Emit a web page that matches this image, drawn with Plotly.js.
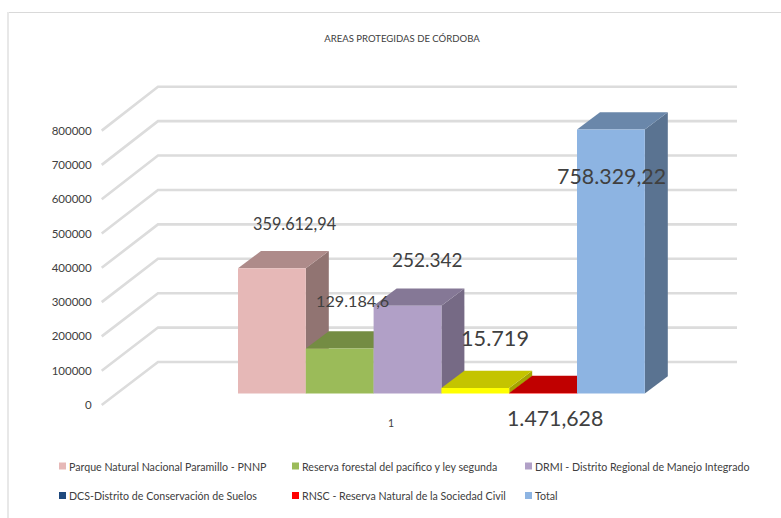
<!DOCTYPE html>
<html>
<head>
<meta charset="utf-8">
<script src="https://cdn.plot.ly/plotly-3.0.1.min.js"></script>
<style>html,body{margin:0;padding:0;background:#fff}#c{width:781px;height:518px}</style>
</head>
<body>
<div id="c"></div>
<script>
// ---- Data ----
const seriesNames = [
  "Parque Natural Nacional Paramillo - PNNP",
  "Reserva forestal del pacífico y ley segunda",
  "DRMI - Distrito Regional de Manejo Integrado",
  "DCS-Distrito de Conservación de Suelos",
  "RNSC - Reserva Natural de la Sociedad Civil",
  "Total"
];
const values = [359612.94, 129184.6, 252342, 15719, 1471.628, 758329.22];
const dataLabels = ["359.612,94", "129.184,6", "252.342", "15.719", "1.471,628", "758.329,22"];
const yTicks = [0, 100000, 200000, 300000, 400000, 500000, 600000, 700000, 800000];
const xTickText = ["1"];

// ---- Styles ----
const frontColors = ["#E6B8B7", "#9BBB59", "#B1A0C7", "#FFFF00", "#FF0000", "#8DB4E2"];
const topColors   = ["#AE8B8A", "#748C43", "#857896", "#C4C400", "#C00000", "#6A87AA"];
const sideColors  = ["#917472", "#6A803D", "#766A85", "#A5A500", "#A00000", "#5A7391"];
const legendColors = ["#E6B8B7", "#9BBB59", "#B1A0C7", "#1F497D", "#FF0000", "#8DB4E2"];
const labelFont = [16.3, 16.2, 19, 21.7, 21.3, 21.4];
const labelShift = [[23, 45], [13, 48], [19.5, 46], [19.7, 50], [12, -25], [1, -47]];
const FONT = "Lato, 'Open Sans', sans-serif";

// ---- Projection of the pseudo-3D box, in axis units ----
const W = 781, H = 518;
const plot = {l: 100, r: 760, t: 70, b: 411};
const slot = 67.8;              // px per bar
const pxPerVal = 34.3 / 100000; // px per value unit on the front plane
const zeroPx = 405;
const xLeft = 238;
const xOf = px => (px - (xLeft + slot / 2)) / slot;
const xRange = [xOf(plot.l), xOf(plot.r)];
const yRange = [(zeroPx - plot.b) / pxPerVal, (zeroPx - plot.t) / pxPerVal];
const wallDX = 56.3 / slot, wallDY = 43 / pxPerVal, wallScale = 34.41 / 34.3;
const gridFrontX = xOf(101.7), gridEndX = xOf(737);
const barBase = 11.5 / pxPerVal, barScale = 1.015;
const depthX = 23 / slot, depthY = 17.2 / pxPerVal;
const axisTickX = xOf(391);

const traces = [];
// gridlines: side wall + back wall
yTicks.forEach(v => {
  const back = wallDY + v * wallScale;
  traces.push({
    x: [gridFrontX, gridFrontX + wallDX, gridEndX],
    y: [v, back, back],
    mode: "lines", type: "scatter", hoverinfo: "skip", showlegend: false,
    line: {color: "#DCDCDC", width: 2.6}
  });
});
// side and top faces, left to right so nearer neighbours overlap
values.forEach((v, i) => {
  const L = i - 0.5, R = i + 0.5, top = barBase + v * barScale;
  traces.push({
    x: [R, R, R + depthX, R + depthX, R],
    y: [barBase, top, top + depthY, barBase + depthY, barBase],
    mode: "lines", type: "scatter", fill: "toself", fillcolor: sideColors[i],
    line: {width: 0}, hoverinfo: "skip", showlegend: false
  });
  traces.push({
    x: [L, L + depthX, R + depthX, R, L],
    y: [top, top + depthY, top + depthY, top, top],
    mode: "lines", type: "scatter", fill: "toself", fillcolor: topColors[i],
    line: {width: 0}, hoverinfo: "skip", showlegend: false
  });
});
// front faces: real bars on an overlaid pair of axes
values.forEach((v, i) => {
  traces.push({
    type: "bar", x: [i], y: [v * barScale], base: [barBase], width: [1],
    name: seriesNames[i], xaxis: "x2", yaxis: "y2",
    marker: {color: frontColors[i], line: {width: 0}},
    hoverinfo: "skip", showlegend: false
  });
});

const px2paperX = p => (p - plot.l) / (plot.r - plot.l);
const px2paperY = p => (plot.b - p) / (plot.b - plot.t);

const annotations = dataLabels.map((t, i) => ({
  text: t, x: i, y: barBase + values[i] * barScale, xref: "x", yref: "y",
  xshift: labelShift[i][0], yshift: labelShift[i][1],
  showarrow: false, xanchor: "center", yanchor: "middle",
  font: {family: FONT, size: labelFont[i], color: "#404040"}
}));

const swatchX = [59, 292, 525];
const rowY = [466, 495.5];
const shapes = [
  {type: "line", xref: "paper", yref: "paper", layer: "below",
   x0: px2paperX(7), x1: px2paperX(781), y0: px2paperY(12.5), y1: px2paperY(12.5),
   line: {color: "#D9D9D9", width: 1}},
  {type: "line", xref: "paper", yref: "paper", layer: "below",
   x0: px2paperX(8), x1: px2paperX(8), y0: px2paperY(12), y1: px2paperY(518),
   line: {color: "#E8E8E8", width: 2}}
];
seriesNames.forEach((n, i) => {
  const c = i % 3, r = Math.floor(i / 3);
  shapes.push({
    type: "rect", xref: "paper", yref: "paper",
    x0: px2paperX(swatchX[c]), x1: px2paperX(swatchX[c] + 7),
    y0: px2paperY(rowY[r] - 3.5), y1: px2paperY(rowY[r] + 3.5),
    fillcolor: legendColors[i], line: {width: 0}
  });
  annotations.push({
    text: n, xref: "paper", yref: "paper",
    x: px2paperX(swatchX[c] + 9.5), y: px2paperY(rowY[r]),
    xanchor: "left", yanchor: "middle", showarrow: false,
    borderpad: 0, xshift: -1,
    font: {family: FONT, size: 10.65, color: "#404040"}
  });
});

const layout = {
  width: W, height: H,
  margin: {l: plot.l, r: W - plot.r, t: plot.t, b: H - plot.b, pad: 0},
  paper_bgcolor: "#fff", plot_bgcolor: "rgba(0,0,0,0)",
  barmode: "overlay", showlegend: false,
  title: {text: "AREAS PROTEGIDAS DE CÓRDOBA", x: 402 / W, xanchor: "center",
          y: 1 - 39 / H, yanchor: "middle",
          font: {family: FONT, size: 9.55, color: "#404040"}},
  xaxis: {range: xRange, tickmode: "array", tickvals: [axisTickX], ticktext: xTickText,
          showgrid: false, zeroline: false, showline: false, ticks: "outside",
          ticklen: 2, tickcolor: "rgba(0,0,0,0)", fixedrange: true,
          tickfont: {family: FONT, size: 10.5, color: "#404040"}},
  yaxis: {range: yRange, tickmode: "array", tickvals: yTicks, ticktext: yTicks.map(String),
          showgrid: false, zeroline: false, showline: false, ticks: "outside",
          ticklen: 5, tickcolor: "rgba(0,0,0,0)", fixedrange: true,
          tickfont: {family: FONT, size: 11.5, color: "#404040"}},
  xaxis2: {overlaying: "x", anchor: "y2", range: xRange, visible: false, fixedrange: true},
  yaxis2: {overlaying: "y", anchor: "x2", range: yRange, visible: false, fixedrange: true},
  annotations, shapes
};
Plotly.newPlot("c", traces, layout, {displayModeBar: false, staticPlot: true});
</script>
</body>
</html>
